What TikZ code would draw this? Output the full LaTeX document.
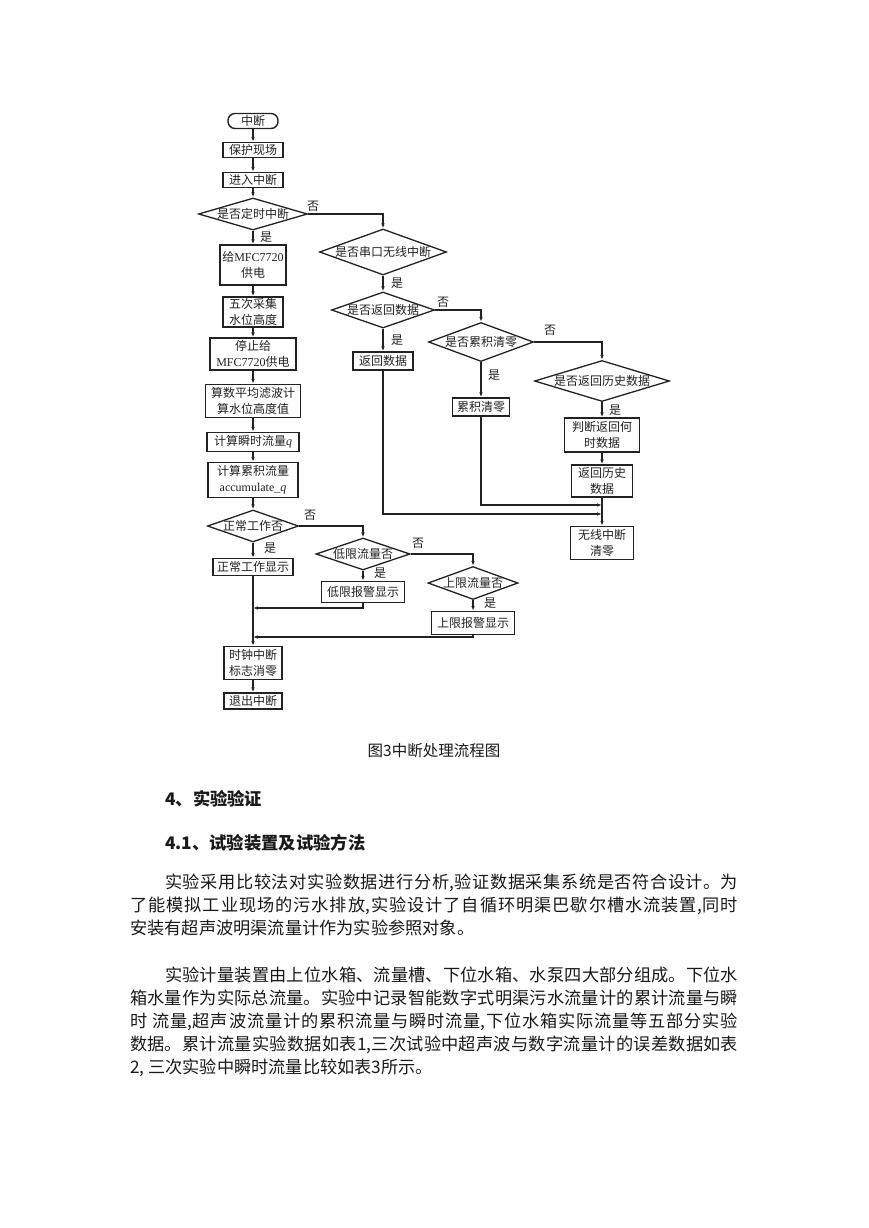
\documentclass[tikz,border=0pt]{standalone}
\usepackage{fontspec}
\setmainfont{Liberation Serif}
\newfontfamily\cjk{Noto Sans CJK SC}
\usetikzlibrary{shapes.geometric,arrows.meta}
\definecolor{lnc}{HTML}{222222}
\definecolor{txc}{HTML}{1A1A1A}
\newcommand\latn[1]{{\rmfamily #1}}
\newcommand\dt[1]{\makebox[0pt]{#1}}
\begin{document}
\begin{tikzpicture}[x=1pt,y=-1pt,
  every node/.style={font=\cjk\fontsize{12}{16}\selectfont, text=lnc},
  box/.style={draw=lnc, line width=1.4pt, fill=white, inner sep=1pt, align=center},
  dia/.style={draw=lnc, line width=1.3pt, fill=white, shape=diamond, inner sep=0pt},
  term/.style={draw=lnc, line width=1.4pt, fill=white, rounded corners=7pt, inner sep=0pt},
  arr/.style={draw=lnc, line width=1.1pt, -{Latex[length=5pt,width=3.6pt]}},
  lab/.style={inner sep=0pt},
  page/.style={text=txc, inner sep=0pt}
]
\fill[white] (0,0) rectangle (869,1228);
\useasboundingbox (0,0) rectangle (869,1228);

% ---------- left column ----------
\node[term, minimum width=50pt, minimum height=15pt] (st) at (253,121) {中断};
\node[box, minimum width=60pt, minimum height=15pt] (b1) at (253,150) {保护现场};
\node[box, minimum width=60pt, minimum height=15pt] (b2) at (253,180) {进入中断};
\node[dia, minimum width=109pt, minimum height=32pt] (d1) at (253,214) {\dt{是否定时中断}};
\node[box, minimum width=66pt, minimum height=40pt] (b3) at (253,265) {给\latn{MFC7720}\\供电};
\node[box, minimum width=60pt, minimum height=30pt] (b4) at (253,312) {五次采集\\水位高度};
\node[box, minimum width=86pt, minimum height=32pt] (b5) at (253,354) {停止给\\\latn{MFC7720}供电};
\node[box, minimum width=95pt, minimum height=33pt] (b6) at (253,401) {算数平均滤波计\\算水位高度值};
\node[box, minimum width=92pt, minimum height=19pt] (b7) at (253,442) {计算瞬时流量\latn{\itshape q}};
\node[box, minimum width=90pt, minimum height=35pt] (b8) at (253,480) {计算累积流量\\\latn{accumulate\_\itshape q}};
\node[dia, minimum width=91pt, minimum height=32pt] (d3) at (253,526) {\dt{正常工作否}};
\node[box, minimum width=80pt, minimum height=17pt] (b9) at (253,567) {正常工作显示};
\node[dia, minimum width=94pt, minimum height=32pt] (d4) at (363,554) {\dt{低限流量否}};
\node[box, minimum width=83pt, minimum height=21pt] (b10) at (363,592) {低限报警显示};
\node[dia, minimum width=90pt, minimum height=33pt] (d5) at (473,583) {\dt{上限流量否}};
\node[box, minimum width=83pt, minimum height=23pt] (b11) at (473,623) {上限报警显示};
\node[box, minimum width=58pt, minimum height=33pt] (b12) at (253,663) {时钟中断\\标志消零};
\node[box, minimum width=58pt, minimum height=16pt] (b13) at (253,701) {退出中断};

% ---------- right part ----------
\node[dia, minimum width=127pt, minimum height=46pt] (d2) at (383,252) {\dt{是否串口无线中断}};
\node[dia, minimum width=103pt, minimum height=36pt] (d6) at (383,310) {\dt{是否返回数据}};
\node[box, minimum width=60pt, minimum height=18pt] (b14) at (383,361) {返回数据};
\node[dia, minimum width=105pt, minimum height=39pt] (d7) at (481,342) {\dt{是否累积清零}};
\node[box, minimum width=57pt, minimum height=18pt] (b15) at (481,407) {累积清零};
\node[dia, minimum width=135pt, minimum height=41pt] (d8) at (602,381) {\dt{是否返回历史数据}};
\node[box, minimum width=75pt, minimum height=34pt] (b16) at (602,435) {判断返回何\\时数据};
\node[box, minimum width=61pt, minimum height=32pt] (b17) at (602,481) {返回历史\\数据};
\node[box, minimum width=63pt, minimum height=33pt] (b18) at (602,543) {无线中断\\清零};

\coordinate (m1) at (602,505);
\coordinate (m2) at (602,514);
\coordinate (k1) at (253,608);
\coordinate (k2) at (253,637);

% ---------- connectors ----------
\draw[arr] (st) -- (b1);
\draw[arr] (b1) -- (b2);
\draw[arr] (b2) -- (d1);
\draw[arr] (d1.south) -- (b3.north);
\draw[arr] (d1.east) -| (d2.north);
\draw[arr] (d2.south) -- (d6.north);
\draw[arr] (d6.south) -- (b14.north);
\draw[arr] (d6.east) -| (d7.north);
\draw[arr] (d7.south) -- (b15.north);
\draw[arr] (d7.east) -| (d8.north);
\draw[arr] (d8.south) -- (b16.north);
\draw[arr] (b16) -- (b17);
\draw[arr] (b17) -- (b18);
\draw[arr] (b15.south) |- (m1);
\draw[arr] (b14.south) |- (m2);
\draw[arr] (b3) -- (b4);
\draw[arr] (b4) -- (b5);
\draw[arr] (b5) -- (b6);
\draw[arr] (b6) -- (b7);
\draw[arr] (b7) -- (b8);
\draw[arr] (b8.south) -- (d3.north);
\draw[arr] (d3.south) -- (b9.north);
\draw[arr] (d3.east) -| (d4.north);
\draw[arr] (d4.south) -- (b10.north);
\draw[arr] (d4.east) -| (d5.north);
\draw[arr] (d5.south) -- (b11.north);
\draw[arr] (b9.south) -- (b12.north);
\draw[arr] (b10.south) |- (k1);
\draw[arr] (b11.south) |- (k2);
\draw[arr] (b12) -- (b13);

% ---------- branch labels ----------
\node[lab] (l1) at (266,237) {是};
\node[lab] (l2) at (313,206) {否};
\node[lab] (l3) at (397,283) {是};
\node[lab] (l4) at (397,340) {是};
\node[lab] (l5) at (443,302) {否};
\node[lab] (l6) at (494,375) {是};
\node[lab] (l7) at (550,330) {否};
\node[lab] (l8) at (615,410) {是};
\node[lab] (l9) at (270,548) {是};
\node[lab] (l10) at (310,515) {否};
\node[lab] (l11) at (380,573) {是};
\node[lab] (l12) at (418,543) {否};
\node[lab] (l13) at (490,603) {是};

% ---------- page text ----------
\node[page, font=\cjk\fontsize{15.5}{18}\selectfont] (cap) at (434,751) {图3中断处理流程图};
\node[page, anchor=base west, font=\cjk\bfseries\fontsize{17.3}{20}\selectfont] (h1) at (165,805.5) {4、实验验证};
\node[page, anchor=base west, font=\cjk\bfseries\fontsize{17.3}{20}\selectfont] (h2) at (165,849.5) {4.1、试验装置及试验方法};

\node[page, anchor=base west, text width=608pt, align=justify,
      font=\cjk\fontsize{17.2}{23.2}\selectfont] (p1) at (130,888)
 {\XeTeXlinebreaklocale "zh"\XeTeXlinebreakskip=0pt plus 2pt minus 0.3pt\tolerance=9999
  \hspace*{35pt}实验采用比较法对实验数据进行分析,验证数据采集系统是否符合设计。为\linebreak
  了能模拟工业现场的污水排放,实验设计了自循环明渠巴歇尔槽水流装置,同时\linebreak
  安装有超声波明渠流量计作为实验参照对象。};
\node[page, anchor=base west, text width=608pt, align=justify,
      font=\cjk\fontsize{17.2}{23.2}\selectfont] (p2) at (130,981)
 {\XeTeXlinebreaklocale "zh"\XeTeXlinebreakskip=0pt plus 2pt minus 0.3pt\tolerance=9999
  \hspace*{35pt}实验计量装置由上位水箱、流量槽、下位水箱、水泵四大部分组成。下位水\linebreak
  箱水量作为实际总流量。实验中记录智能数字式明渠污水流量计的累计流量与瞬\linebreak
  时\ 流量,超声波流量计的累积流量与瞬时流量,下位水箱实际流量等五部分实验\linebreak
  数据。累计流量实验数据如表1,三次试验中超声波与数字流量计的误差数据如表\linebreak
  2, 三次实验中瞬时流量比较如表3所示。};
\end{tikzpicture}
\end{document}
